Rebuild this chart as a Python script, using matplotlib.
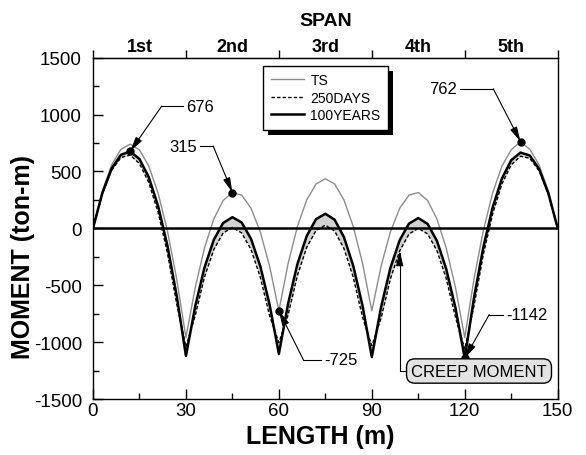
import numpy as np
import matplotlib
matplotlib.use("Agg")
import matplotlib.pyplot as plt
from matplotlib.patches import Rectangle
from matplotlib.transforms import IdentityTransform

plt.rcParams['font.family'] = ['Liberation Sans', 'DejaVu Sans']
plt.rcParams['axes.unicode_minus'] = False

# Bending moment along the 5-span girder, sampled every 3 m
length_m = np.arange(0, 151, 3)

moment_ts = [
    0, 325, 557, 695, 740, 690, 547, 311, -19, -443, -960,
    -520, -172, 83, 245, 315, 292, 177, -31, -332, -725,
    -307, 18, 250, 390, 436, 390, 250, 18, -307, -725,
    -332, -31, 177, 292, 315, 245, 83, -172, -520, -960,
    -443, -19, 311, 547, 690, 762, 695, 557, 325, 0,
]
moment_250days = [
    0, 301, 509, 622, 644, 569, 402, 142, -213, -661, -1042,
    -766, -427, -186, -41, 8, -41, -186, -429, -768, -1004,
    -759, -412, -166, -19, 28, -24, -177, -429, -780, -1031,
    -789, -444, -198, -50, 0, -49, -195, -439, -781, -1062,
    -679, -229, 128, 390, 559, 634, 616, 505, 299, 0,
]
moment_100years = [
    0, 309, 525, 646, 676, 609, 450, 198, -149, -589, -1122,
    -684, -343, -100, 47, 98, 51, -92, -333, -670, -1104,
    -659, -312, -66, 81, 128, 76, -77, -329, -680, -1131,
    -691, -348, -104, 42, 90, 39, -109, -355, -699, -1142,
    -607, -165, 184, 438, 599, 666, 640, 521, 307, 0,
]

span_names = ['1st', '2nd', '3rd', '4th', '5th']
support_positions = [0, 30, 60, 90, 120, 150]
span_centers = [15, 45, 75, 105, 135]
y_ticks = [-1500, -1000, -500, 0, 500, 1000, 1500]

x = np.asarray(length_m)
ts = np.asarray(moment_ts)
d250 = np.asarray(moment_250days)
y100 = np.asarray(moment_100years)

fig = plt.figure(figsize=(5.86, 4.56), dpi=100)
ax = fig.add_axes([0.1587, 0.1228, 0.7930, 0.7485])

# creep moment band between the two long-term curves
ax.fill_between(x, d250, y100, color='#d2d2d2', lw=0, zorder=1)
ax.plot(x, ts, color='0.55', lw=1.0, label='TS', zorder=2)
ax.plot(x, d250, color='k', lw=1.0, ls=(0, (2.5, 1.5)), label='250DAYS', zorder=3)
ax.plot(x, y100, color='k', lw=1.8, label='100YEARS', zorder=4)
ax.axhline(0, color='k', lw=1.8, zorder=5)

ax.set_xlim(0, 150)
ax.set_ylim(-1500, 1500)
ax.set_xticks(support_positions)
ax.set_xticks(span_centers, minor=True)
ax.set_yticks(y_ticks)
ax.set_yticks(np.arange(-1250, 1500, 500), minor=True)
ax.tick_params(axis='both', which='both', direction='in', labelsize=13.5,
               top=False, right=False)
ax.tick_params(which='major', length=7, width=1)
ax.tick_params(which='minor', length=4, width=1)
ax.tick_params(axis='x', pad=2)
ax.tick_params(axis='y', pad=8)
for s in ax.spines.values():
    s.set_linewidth(1.0)

ax.set_xlabel('LENGTH (m)', fontsize=18, fontweight='bold')
ax.set_ylabel('MOMENT (ton-m)', fontsize=18, fontweight='bold')
ax.xaxis.set_label_coords(0.49, -0.108)
ax.yaxis.set_label_coords(-0.151, 0.42)
ax.xaxis.label.set_va('center')
ax.yaxis.label.set_va('center')

# span labels along the top
top = ax.secondary_xaxis('top')
top.set_xticks(support_positions, labels=[''] * len(support_positions))
top.set_xticks(span_centers, labels=span_names, minor=True)
top.tick_params(which='major', direction='out', length=6, width=1)
top.tick_params(which='minor', length=0, labelsize=13, pad=2)
for lbl in top.get_xticklabels(minor=True):
    lbl.set_fontweight('bold')
top.set_xlabel('SPAN', fontsize=14, fontweight='bold', labelpad=9)

arrow_kw = dict(arrowstyle='-|>,head_length=0.9,head_width=0.22', color='k',
                lw=0.8, shrinkA=0, shrinkB=0, mutation_scale=10)


def callout(xv, series, text_x, elbow_x, elbow_y, ha):
    yv = series[list(length_m).index(xv)]
    ax.plot([xv], [yv], 'o', color='k', ms=5, zorder=7)
    ax.text(text_x, elbow_y, f"{yv:.0f}", ha=ha, va='center', fontsize=12, zorder=7)
    gap = 1.0 if ha == 'left' else -1.0
    ax.plot([text_x - gap, elbow_x], [elbow_y, elbow_y], color='k', lw=0.8, zorder=6)
    ax.annotate('', xy=(xv, yv), xytext=(elbow_x, elbow_y), arrowprops=arrow_kw, zorder=6)


callout(12, y100, 30.0, 22.2, 1075, 'left')
callout(45, ts, 33.5, 38.8, 723, 'right')
callout(138, ts, 117.6, 129.2, 1227, 'right')
callout(60, ts, 74.6, 67.9, -1155, 'left')
callout(120, y100, 133.5, 127.9, -758, 'left')

# creep moment pointer
creep_x = 99
creep_y = d250[list(length_m).index(creep_x)]
ax.annotate('CREEP MOMENT', xy=(creep_x, creep_y), xytext=(124.6, -1254),
            ha='center', va='center', fontsize=12, zorder=8,
            bbox=dict(boxstyle='round,pad=0.28,rounding_size=0.5', fc='#e3e3e3', ec='k', lw=1.0),
            arrowprops=dict(arrowstyle='-|>,head_length=0.9,head_width=0.22', color='k', lw=0.8,
                            shrinkA=0, shrinkB=0, mutation_scale=10,
                            connectionstyle='angle,angleA=180,angleB=90,rad=0'))

leg = ax.legend(loc='upper left', bbox_to_anchor=(0.366, 0.977), borderaxespad=0,
                frameon=True, fancybox=False, edgecolor='k', framealpha=1,
                fontsize=10, handlelength=2.4, borderpad=0.55, labelspacing=0.25,
                handletextpad=0.45)
leg.get_frame().set_linewidth(1.0)
leg.set_zorder(10)

fig.canvas.draw()
bb = leg.get_window_extent()
shadow = Rectangle((bb.x0 + 5, bb.y0 - 5), bb.width, bb.height, transform=IdentityTransform(),
                   facecolor='k', edgecolor='none', zorder=9.5, clip_on=False)
ax.add_artist(shadow)

fig.savefig('out.png', dpi=100)
